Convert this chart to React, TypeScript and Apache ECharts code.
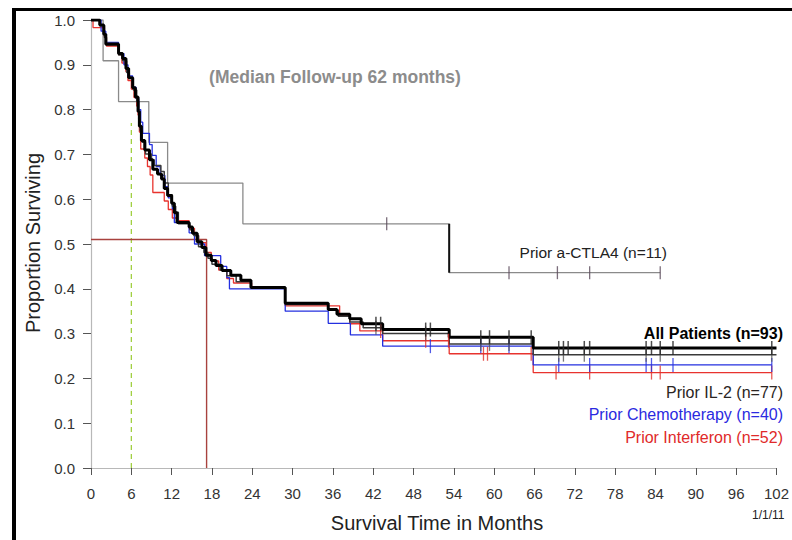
import React, { useEffect, useRef } from "react";
import * as echarts from "echarts";

type Pt = [number, number];

const X_MIN = 0;
const X_MAX = 102;
const X_STEP = 6;
const Y_MIN = 0;
const Y_MAX = 1;
const Y_STEP = 0.1;

const ALL_PATIENTS: Pt[] = [
  [0, 1.0], [1.3, 0.989], [1.9, 0.968], [2.2, 0.946], [4.1, 0.925], [4.7, 0.914],
  [5.2, 0.892], [5.6, 0.871], [6.2, 0.849], [6.6, 0.828], [7.0, 0.796], [7.2, 0.763],
  [7.5, 0.731], [8.0, 0.71], [8.7, 0.688], [9.2, 0.667], [9.9, 0.656], [10.5, 0.645],
  [10.9, 0.624], [11.4, 0.608], [12.0, 0.591], [12.4, 0.57], [12.8, 0.548], [14.6, 0.538],
  [15.1, 0.524], [15.8, 0.505], [16.5, 0.492], [17.1, 0.475], [17.9, 0.463], [18.6, 0.452],
  [19.5, 0.441], [20.8, 0.43], [22.3, 0.419], [23.8, 0.403], [28.9, 0.368], [35.3, 0.354],
  [36.6, 0.343], [38.5, 0.333], [40.2, 0.322], [43.4, 0.309], [53.3, 0.292], [65.8, 0.268],
  [102, 0.268],
];

const PRIOR_IL2: Pt[] = [
  [0, 1.0], [1.3, 0.987], [2.0, 0.961], [2.3, 0.948], [4.1, 0.922], [4.7, 0.909],
  [5.3, 0.883], [5.7, 0.87], [6.3, 0.844], [6.8, 0.818], [7.1, 0.779], [7.3, 0.753],
  [7.6, 0.727], [8.1, 0.701], [9.0, 0.688], [9.4, 0.675], [10.4, 0.662], [10.9, 0.636],
  [11.5, 0.61], [12.1, 0.584], [12.6, 0.571], [13.0, 0.545], [14.7, 0.532], [15.3, 0.519],
  [16.0, 0.494], [16.8, 0.481], [17.4, 0.468], [18.0, 0.455], [19.2, 0.442], [20.2, 0.429],
  [21.6, 0.416], [23.8, 0.403], [28.9, 0.365], [35.3, 0.352], [36.8, 0.339], [38.5, 0.326],
  [40.5, 0.313], [43.4, 0.3], [53.3, 0.277], [65.8, 0.253], [102, 0.253],
];

const PRIOR_CHEMO: Pt[] = [
  [0, 1.0], [1.5, 0.975], [2.2, 0.95], [4.1, 0.925], [4.9, 0.9], [5.5, 0.875],
  [6.2, 0.85], [6.7, 0.825], [7.1, 0.8], [7.4, 0.772], [7.7, 0.747], [8.7, 0.722],
  [9.1, 0.698], [9.7, 0.673], [10.3, 0.653], [11.0, 0.628], [11.5, 0.603], [12.1, 0.578],
  [12.4, 0.548], [14.6, 0.525], [15.4, 0.5], [16.9, 0.474], [19.3, 0.45], [20.2, 0.425],
  [20.6, 0.4], [28.9, 0.35], [35.3, 0.323], [38.6, 0.297], [43.4, 0.272], [65.8, 0.23],
  [101.3, 0.23],
];

const PRIOR_INTERFERON: Pt[] = [
  [0, 1.0], [0.3, 0.983], [2.0, 0.962], [2.3, 0.942], [4.1, 0.923], [4.6, 0.904],
  [5.2, 0.885], [5.5, 0.865], [6.0, 0.846], [6.4, 0.827], [6.8, 0.808], [7.0, 0.788],
  [7.2, 0.75], [7.4, 0.712], [8.0, 0.692], [8.4, 0.673], [8.8, 0.654], [9.2, 0.615],
  [10.9, 0.596], [11.5, 0.577], [12.1, 0.558], [12.8, 0.552], [14.6, 0.535], [15.4, 0.519],
  [16.0, 0.503], [17.1, 0.481], [17.9, 0.462], [19.0, 0.442], [20.2, 0.423], [21.2, 0.413],
  [23.9, 0.402], [28.9, 0.362], [37.0, 0.342], [38.5, 0.322], [40.0, 0.306], [43.4, 0.284],
  [53.3, 0.255], [65.8, 0.213], [101.3, 0.213],
];

const PRIOR_CTLA4: Pt[] = [
  [0, 1.0], [1.8, 0.909], [4.1, 0.818], [8.6, 0.727], [11.4, 0.636], [22.6, 0.545],
  [53.3, 0.436], [84.7, 0.436],
];

const CENSOR_ALL = [42.4, 43.1, 49.8, 50.5, 58.0, 59.3, 62.2, 65.5, 69.6, 70.3, 71.0, 73.4, 74.2, 82.6, 83.4, 84.7, 86.6, 101.3];
const CENSOR_IL2 = [42.4, 49.8, 58.0, 59.3, 62.2, 69.6, 70.3, 73.4, 82.6, 84.7, 101.3];
const CENSOR_CHEMO = [50.5, 58.0, 62.2, 69.6, 74.2, 82.6, 83.4, 86.6, 101.3];
const CENSOR_INTERFERON = [43.1, 49.8, 53.2, 58.4, 59.0, 65.5, 69.2, 74.2, 83.4, 84.7, 101.3];
const CENSOR_CTLA4 = [44.0, 62.2, 69.4, 74.2, 84.7];

const SIX_MONTH = 6;
const SIX_MONTH_LEVEL = 0.77;
const MEDIAN_OS = 17.2;
const MEDIAN_LEVEL = 0.51;
const CTLA4_DROP_TIME = 53.3;

const TITLE = "(Median Follow-up 62 months)";
const X_NAME = "Survival Time in Months";
const Y_NAME = "Proportion Surviving";
const DATE_NOTE = "1/1/11";
const LABEL_ALL = "All Patients (n=93)";
const LABEL_IL2 = "Prior IL-2 (n=77)";
const LABEL_CHEMO = "Prior Chemotherapy (n=40)";
const LABEL_INTERFERON = "Prior Interferon (n=52)";
const LABEL_CTLA4 = "Prior a-CTLA4 (n=11)";

const FONT = "'Liberation Sans', Arial, sans-serif";

function survivalAt(curve: Pt[], t: number): number {
  let s = curve[0][1];
  for (const [m, v] of curve) {
    if (m <= t) s = v;
    else break;
  }
  return s;
}

function censorPoints(curve: Pt[], times: number[]): Pt[] {
  return times.map((t) => [t, survivalAt(curve, t)] as Pt);
}

function stepSeries(name: string, data: Pt[], color: string, width: number, z: number) {
  return {
    name,
    type: "line",
    step: "end",
    data,
    showSymbol: false,
    symbol: "none",
    lineStyle: { color, width },
    z,
    silent: true,
  };
}

function censorSeries(name: string, data: Pt[], color: string, w: number, h: number, z: number) {
  return {
    name,
    type: "scatter",
    data,
    symbol: "rect",
    symbolSize: [w, h],
    itemStyle: { color },
    z,
    silent: true,
  };
}

function text(t: string, x: number, y: number, size: number, color: string, align: string, weight = "normal", rotation = 0) {
  return {
    type: "text",
    x,
    y,
    rotation,
    style: {
      text: t,
      x: 0,
      y: 0,
      fill: color,
      font: `${weight} ${size}px ${FONT}`,
      align,
      verticalAlign: "middle",
      textAlign: align,
      textVerticalAlign: "middle",
    },
    z: 100,
  };
}

export default function App() {
  const ref = useRef<HTMLDivElement>(null);

  useEffect(() => {
    if (!ref.current) return;
    const chart = echarts.init(ref.current, undefined, { renderer: "svg" });

    const dropIdx = PRIOR_CTLA4.findIndex((p) => p[0] === CTLA4_DROP_TIME);
    const ctlaDrop: Pt[] = [
      [CTLA4_DROP_TIME, PRIOR_CTLA4[dropIdx - 1][1]],
      [CTLA4_DROP_TIME, PRIOR_CTLA4[dropIdx][1]],
    ];

    chart.setOption({
      animation: false,
      backgroundColor: "#ffffff",
      grid: { left: 91, right: 10, top: 20, bottom: 72, containLabel: false },
      xAxis: {
        type: "value",
        min: X_MIN,
        max: X_MAX,
        interval: X_STEP,
        axisLine: { show: true, lineStyle: { color: "#b8b8b8", width: 1.2 } },
        axisTick: { show: true, length: 7, lineStyle: { color: "#555", width: 1 } },
        axisLabel: { fontSize: 15, color: "#333", margin: 18, fontFamily: FONT },
        splitLine: { show: false },
      },
      yAxis: {
        type: "value",
        min: Y_MIN,
        max: Y_MAX,
        interval: Y_STEP,
        axisLine: { show: true, lineStyle: { color: "#b8b8b8", width: 1.2 } },
        axisTick: { show: true, length: 8, lineStyle: { color: "#555", width: 1 } },
        axisLabel: {
          fontSize: 15,
          color: "#333",
          margin: 16,
          fontFamily: FONT,
          formatter: (v: number) => v.toFixed(1),
        },
        splitLine: { show: false },
      },
      series: [
        {
          name: "six-month",
          type: "line",
          data: [[SIX_MONTH, 0], [SIX_MONTH, SIX_MONTH_LEVEL]],
          showSymbol: false,
          symbol: "none",
          lineStyle: { color: "#9acd32", width: 1.2, type: [5, 4] },
          z: 1,
          silent: true,
        },
        {
          name: "median",
          type: "line",
          data: [[X_MIN, MEDIAN_LEVEL], [MEDIAN_OS, MEDIAN_LEVEL], [MEDIAN_OS, 0]],
          showSymbol: false,
          symbol: "none",
          lineStyle: { color: "#a8423e", width: 1.4 },
          z: 1,
          silent: true,
        },
        stepSeries(LABEL_CTLA4, PRIOR_CTLA4, "#8a8a8a", 1.3, 2),
        {
          name: "ctla4-drop",
          type: "line",
          data: ctlaDrop,
          showSymbol: false,
          symbol: "none",
          lineStyle: { color: "#111", width: 2 },
          z: 3,
          silent: true,
        },
        stepSeries(LABEL_INTERFERON, PRIOR_INTERFERON, "#e8332e", 1.3, 4),
        stepSeries(LABEL_CHEMO, PRIOR_CHEMO, "#2430e0", 1.3, 5),
        stepSeries(LABEL_IL2, PRIOR_IL2, "#3a3a3a", 1.5, 6),
        stepSeries(LABEL_ALL, ALL_PATIENTS, "#000000", 3, 7),
        censorSeries("c-ctla4", censorPoints(PRIOR_CTLA4, CENSOR_CTLA4), "#5a4a5a", 1.3, 13, 8),
        censorSeries("c-ifn", censorPoints(PRIOR_INTERFERON, CENSOR_INTERFERON), "#e0302a", 1.3, 14, 8),
        censorSeries("c-chemo", censorPoints(PRIOR_CHEMO, CENSOR_CHEMO), "#2430e0", 1.3, 14, 8),
        censorSeries("c-il2", censorPoints(PRIOR_IL2, CENSOR_IL2), "#555555", 1.3, 14, 8),
        censorSeries("c-all", censorPoints(ALL_PATIENTS, CENSOR_ALL), "#222222", 1.5, 14, 9),
      ],
      graphic: [
        { type: "rect", shape: { x: 12, y: 8, width: 780, height: 3 }, style: { fill: "#000" }, z: 100 },
        { type: "rect", shape: { x: 12, y: 8, width: 4, height: 532 }, style: { fill: "#000" }, z: 100 },
        text(TITLE, 335, 77, 17.5, "#8c8c8c", "center", "bold"),
        text(Y_NAME, 33, 243, 20, "#222", "center", "normal", Math.PI / 2),
        text(X_NAME, 437, 523, 20, "#222", "center"),
        text(DATE_NOTE, 752, 515, 12, "#222", "left"),
        text(LABEL_CTLA4, 667, 252, 15.5, "#222", "right"),
        text(LABEL_ALL, 783, 333, 16, "#000", "right", "bold"),
        text(LABEL_IL2, 783, 392, 16, "#2a2522", "right"),
        text(LABEL_CHEMO, 783, 414, 16, "#2a2ae0", "right"),
        text(LABEL_INTERFERON, 783, 437, 16, "#e02a2a", "right"),
      ],
    });

    return () => chart.dispose();
  }, []);

  return (
    <div
      ref={ref}
      style={{ position: "fixed", left: 0, top: 0, width: 792, height: 540, background: "#fff" }}
    />
  );
}
